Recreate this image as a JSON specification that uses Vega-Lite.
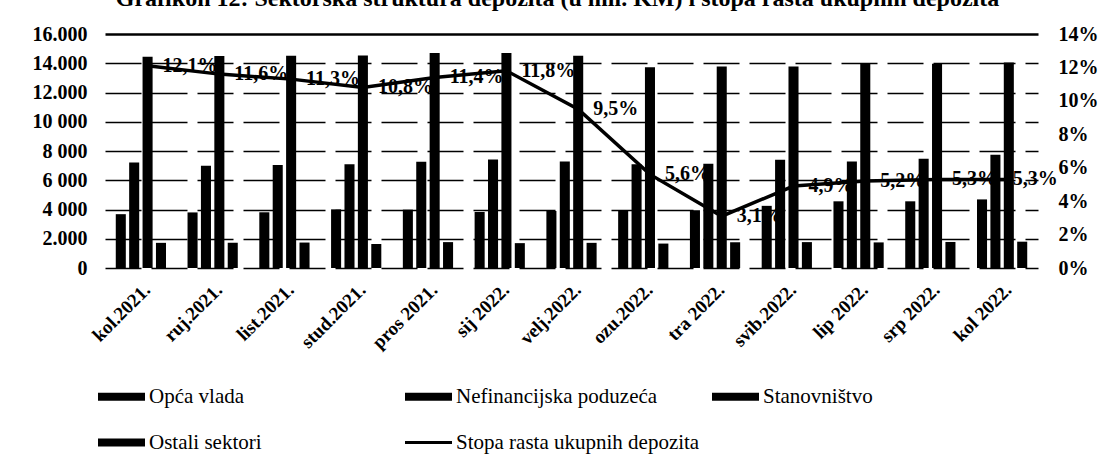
{
  "$schema": "https://vega.github.io/schema/vega-lite/v6.json",
  "width": 933,
  "height": 234,
  "autosize": {"type": "none"},
  "padding": {"left": 105, "top": 34, "right": 64, "bottom": 194},
  "background": "white",
  "title": {
    "text": "Grafikon 12: Sektorska struktura depozita (u mil. KM) i stopa rasta ukupnih depozita",
    "font": "Liberation Serif",
    "fontSize": 24,
    "fontWeight": "bold",
    "color": "black",
    "anchor": "middle",
    "dx": -14,
    "offset": 13
  },
  "datasets": {
    "deposits": [
      {"month": "kol.2021.", "sector": "Opća vlada", "value": 3680},
      {"month": "kol.2021.", "sector": "Nefinancijska poduzeća", "value": 7220},
      {"month": "kol.2021.", "sector": "Stanovništvo", "value": 14450},
      {"month": "kol.2021.", "sector": "Ostali sektori", "value": 1720},
      {"month": "ruj.2021.", "sector": "Opća vlada", "value": 3800},
      {"month": "ruj.2021.", "sector": "Nefinancijska poduzeća", "value": 7000},
      {"month": "ruj.2021.", "sector": "Stanovništvo", "value": 14500},
      {"month": "ruj.2021.", "sector": "Ostali sektori", "value": 1730},
      {"month": "list.2021.", "sector": "Opća vlada", "value": 3810},
      {"month": "list.2021.", "sector": "Nefinancijska poduzeća", "value": 7040},
      {"month": "list.2021.", "sector": "Stanovništvo", "value": 14520},
      {"month": "list.2021.", "sector": "Ostali sektori", "value": 1740},
      {"month": "stud.2021.", "sector": "Opća vlada", "value": 4010},
      {"month": "stud.2021.", "sector": "Nefinancijska poduzeća", "value": 7100},
      {"month": "stud.2021.", "sector": "Stanovništvo", "value": 14530},
      {"month": "stud.2021.", "sector": "Ostali sektori", "value": 1640},
      {"month": "pros 2021.", "sector": "Opća vlada", "value": 3990},
      {"month": "pros 2021.", "sector": "Nefinancijska poduzeća", "value": 7260},
      {"month": "pros 2021.", "sector": "Stanovništvo", "value": 14700},
      {"month": "pros 2021.", "sector": "Ostali sektori", "value": 1770},
      {"month": "sij 2022.", "sector": "Opća vlada", "value": 3830},
      {"month": "sij 2022.", "sector": "Nefinancijska poduzeća", "value": 7420},
      {"month": "sij 2022.", "sector": "Stanovništvo", "value": 14700},
      {"month": "sij 2022.", "sector": "Ostali sektori", "value": 1700},
      {"month": "velj.2022.", "sector": "Opća vlada", "value": 3900},
      {"month": "velj.2022.", "sector": "Nefinancijska poduzeća", "value": 7280},
      {"month": "velj.2022.", "sector": "Stanovništvo", "value": 14520},
      {"month": "velj.2022.", "sector": "Ostali sektori", "value": 1720},
      {"month": "ozu.2022.", "sector": "Opća vlada", "value": 3950},
      {"month": "ozu.2022.", "sector": "Nefinancijska poduzeća", "value": 7100},
      {"month": "ozu.2022.", "sector": "Stanovništvo", "value": 13720},
      {"month": "ozu.2022.", "sector": "Ostali sektori", "value": 1670},
      {"month": "tra 2022.", "sector": "Opća vlada", "value": 3950},
      {"month": "tra 2022.", "sector": "Nefinancijska poduzeća", "value": 7130},
      {"month": "tra 2022.", "sector": "Stanovništvo", "value": 13780},
      {"month": "tra 2022.", "sector": "Ostali sektori", "value": 1760},
      {"month": "svib.2022.", "sector": "Opća vlada", "value": 4250},
      {"month": "svib.2022.", "sector": "Nefinancijska poduzeća", "value": 7400},
      {"month": "svib.2022.", "sector": "Stanovništvo", "value": 13780},
      {"month": "svib.2022.", "sector": "Ostali sektori", "value": 1770},
      {"month": "lip 2022.", "sector": "Opća vlada", "value": 4560},
      {"month": "lip 2022.", "sector": "Nefinancijska poduzeća", "value": 7290},
      {"month": "lip 2022.", "sector": "Stanovništvo", "value": 13960},
      {"month": "lip 2022.", "sector": "Ostali sektori", "value": 1750},
      {"month": "srp 2022.", "sector": "Opća vlada", "value": 4560},
      {"month": "srp 2022.", "sector": "Nefinancijska poduzeća", "value": 7470},
      {"month": "srp 2022.", "sector": "Stanovništvo", "value": 13960},
      {"month": "srp 2022.", "sector": "Ostali sektori", "value": 1780},
      {"month": "kol 2022.", "sector": "Opća vlada", "value": 4690},
      {"month": "kol 2022.", "sector": "Nefinancijska poduzeća", "value": 7740},
      {"month": "kol 2022.", "sector": "Stanovništvo", "value": 14050},
      {"month": "kol 2022.", "sector": "Ostali sektori", "value": 1800}
    ],
    "rates": [
      {"month": "kol.2021.", "rate": 0.121},
      {"month": "ruj.2021.", "rate": 0.116},
      {"month": "list.2021.", "rate": 0.113},
      {"month": "stud.2021.", "rate": 0.108},
      {"month": "pros 2021.", "rate": 0.114},
      {"month": "sij 2022.", "rate": 0.118},
      {"month": "velj.2022.", "rate": 0.095},
      {"month": "ozu.2022.", "rate": 0.056},
      {"month": "tra 2022.", "rate": 0.031},
      {"month": "svib.2022.", "rate": 0.049},
      {"month": "lip 2022.", "rate": 0.052},
      {"month": "srp 2022.", "rate": 0.053},
      {"month": "kol 2022.", "rate": 0.053}
    ]
  },
  "config": {
    "locale": {"number": {"decimal": ",", "thousands": ".", "grouping": [3], "currency": ["", ""]}},
    "view": {"stroke": null},
    "font": "Liberation Serif",
    "axis": {"labelFont": "Liberation Serif", "labelFontWeight": "bold", "labelColor": "black", "domain": false, "ticks": false, "labelOverlap": false}
  },
  "layer": [
    {
      "data": {"name": "deposits"},
      "mark": {"type": "bar", "color": "black"},
      "encoding": {
        "x": {
          "field": "month",
          "type": "nominal",
          "sort": null,
          "scale": {"domain": ["kol.2021.","ruj.2021.","list.2021.","stud.2021.","pros 2021.","sij 2022.","velj.2022.","ozu.2022.","tra 2022.","svib.2022.","lip 2022.","srp 2022.","kol 2022."], "paddingInner": 0.3, "paddingOuter": 0.15},
          "axis": {"title": null, "labelAngle": -45, "labelFontSize": 19, "labelPadding": 12}
        },
        "xOffset": {
          "field": "sector",
          "type": "nominal",
          "scale": {"domain": ["Opća vlada", "Nefinancijska poduzeća", "Stanovništvo", "Ostali sektori"], "paddingInner": 0.25, "paddingOuter": 0}
        },
        "y": {
          "field": "value",
          "type": "quantitative",
          "scale": {"domain": [0, 16000], "nice": false},
          "axis": {
            "title": null,
            "values": [0, 2000, 4000, 6000, 8000, 10000, 12000, 14000, 16000],
            "format": ",d",
            "labelExpr": "indexof([4000, 6000, 8000, 10000], datum.value) >= 0 ? replace(datum.label, '.', ' ') : datum.label",
            "labelFontSize": 20,
            "labelPadding": 18,
            "grid": true,
            "gridColor": "black",
            "gridWidth": {"condition": {"test": "datum.value === 16000", "value": 2.5}, "value": 1.5},
            "gridDash": {"condition": {"test": "datum.value === 16000", "value": []}, "value": [36, 10]}
          }
        },
        "color": {
          "field": "sector",
          "type": "nominal",
          "scale": {
            "domain": ["Opća vlada", "Nefinancijska poduzeća", "Stanovništvo", "Ostali sektori", "Stopa rasta ukupnih depozita"],
            "range": ["black", "black", "black", "black", "black"]
          },
          "legend": {
            "title": null,
            "orient": "none",
            "legendX": -7,
            "legendY": 339,
            "direction": "horizontal",
            "columns": 3,
            "gridAlign": "all",
            "columnPadding": 12,
            "rowPadding": 12,
            "symbolType": "M-1,-0.17H1V0.17H-1Z",
            "symbolSize": 2209,
            "labelFont": "Liberation Serif",
            "labelFontSize": 21,
            "labelFontWeight": "normal",
            "labelColor": "black",
            "labelOffset": 4,
            "labelLimit": 400,
            "encode": {
              "symbols": {
                "update": {
                  "shape": {"signal": "datum.value === 'Stopa rasta ukupnih depozita' ? 'M-1,-0.06H1V0.06H-1Z' : 'M-1,-0.17H1V0.17H-1Z'"},
                  "fill": {"value": "black"},
                  "strokeWidth": {"value": 0}
                }
              }
            }
          }
        }
      }
    },
    {
      "data": {"name": "rates"},
      "encoding": {
        "x": {"field": "month", "type": "nominal", "sort": null},
        "y": {
          "field": "rate",
          "type": "quantitative",
          "scale": {"domain": [0, 0.14], "nice": false},
          "axis": {
            "title": null,
            "orient": "right",
            "values": [0, 0.02, 0.04, 0.06, 0.08, 0.1, 0.12, 0.14],
            "format": ".0%",
            "labelFontSize": 20,
            "labelPadding": 20,
            "labelOverlap": false,
            "grid": false
          }
        }
      },
      "layer": [
        {
          "mark": {"type": "line", "strokeWidth": 3.5, "xOffset": 6.7},
          "encoding": {
            "color": {"datum": "Stopa rasta ukupnih depozita"}
          }
        },
        {
          "mark": {"type": "text", "align": "left", "baseline": "middle", "xOffset": 21.7, "dx": {"expr": "datum.month === 'kol 2022.' ? -11 : 0"}, "font": "Liberation Serif", "fontSize": 20, "fontWeight": "bold", "color": "black"},
          "encoding": {
            "text": {"field": "rate", "type": "quantitative", "format": ".1%"}
          }
        }
      ]
    }
  ],
  "resolve": {"scale": {"y": "independent"}}
}
